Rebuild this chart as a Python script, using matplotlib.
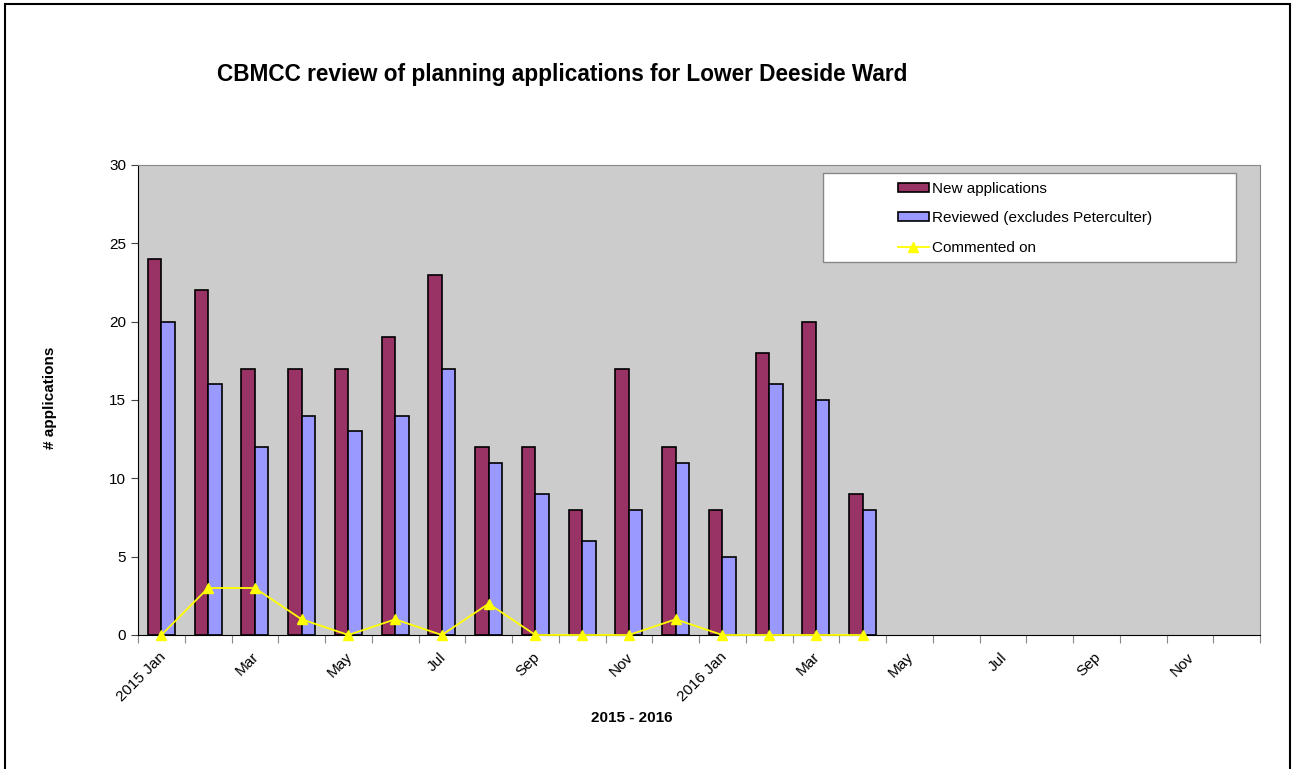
import matplotlib
matplotlib.use("Agg")
import matplotlib.pyplot as plt
import numpy as np
from matplotlib.patches import Rectangle

plt.rcParams["font.family"] = ["Liberation Sans", "DejaVu Sans"]

# monthly categories, Jan 2015 .. Dec 2016
months = ["2015 Jan", "Feb", "Mar", "Apr", "May", "Jun", "Jul", "Aug", "Sep", "Oct",
          "Nov", "Dec", "2016 Jan", "Feb", "Mar", "Apr", "May", "Jun", "Jul", "Aug",
          "Sep", "Oct", "Nov", "Dec"]
new_apps = [24, 22, 17, 17, 17, 19, 23, 12, 12, 8, 17, 12, 8, 18, 20, 9]
reviewed = [20, 16, 12, 14, 13, 14, 17, 11, 9, 6, 8, 11, 5, 16, 15, 8]
commented = [0, 3, 3, 1, 0, 1, 0, 2, 0, 0, 0, 1, 0, 0, 0, 0]

W, H = 1305, 769
AX_L, AX_R, AX_T, AX_B = 138, 1260, 165, 635
fig = plt.figure(figsize=(W / 100, H / 100), dpi=100)
ax = fig.add_axes([AX_L / W, 1 - AX_B / H, (AX_R - AX_L) / W, (AX_B - AX_T) / H])
ax.set_facecolor("#cccccc")


def axc(px, py):
    # pixel position -> axes fraction
    return (px - AX_L) / (AX_R - AX_L), (AX_B - py) / (AX_B - AX_T)


n = len(new_apps)
x = np.arange(n)
bw = 0.29
b1 = ax.bar(x - bw / 2, new_apps, bw, color="#993366", edgecolor="black", lw=1.2,
            label="New applications", zorder=2)
b2 = ax.bar(x + bw / 2, reviewed, bw, color="#9999ff", edgecolor="black", lw=1.2,
            label="Reviewed (excludes Peterculter)", zorder=2)
l1, = ax.plot(x, commented, color="#ffff00", marker="^", ms=7, lw=1.3,
              label="Commented on", zorder=3, clip_on=False)

ax.set_xlim(-0.5, len(months) - 0.5)
ax.set_ylim(0, 30)
ax.set_yticks(range(0, 31, 5))
ax.tick_params(axis="y", labelsize=11, length=5, color="#444444")

# category boundary ticks, labels every other month
ax.set_xticks(np.arange(len(months) + 1) - 0.5)
ax.set_xticklabels([])
ax.tick_params(axis="x", length=6, color="#888888")
for i in range(0, len(months), 2):
    ax.text(i - 0.06, -0.95, months[i], rotation=45, ha="right", va="top",
            fontsize=11, rotation_mode="anchor")

for s in ["top", "right"]:
    ax.spines[s].set_color("#888888")
ax.spines["left"].set_color("black")
ax.spines["bottom"].set_color("black")

fig.text(50 / W, 1 - 398 / H, "# applications", rotation=90, ha="center", va="center",
         fontsize=11, fontweight="bold")
fig.text(632 / W, 1 - 718 / H, "2015 - 2016", ha="center", va="center",
         fontsize=11, fontweight="bold")
fig.text(562 / W, 1 - 75 / H, "CBMCC review of planning applications for Lower Deeside Ward",
         ha="center", va="center", fontsize=16.3, fontweight="bold")

# legend box
x0, y0 = axc(823, 262)
x1, y1 = axc(1236, 173)
ax.add_patch(Rectangle((x0, y0), x1 - x0, y1 - y0, transform=ax.transAxes,
                       facecolor="white", edgecolor="#888888", lw=1, zorder=4))
lx, ly = axc(898, 182)
leg = ax.legend([b1, b2, l1], [b1.get_label(), b2.get_label(), l1.get_label()],
                loc="upper left", bbox_to_anchor=(lx, ly), frameon=False,
                fontsize=11, handlelength=2.0, handleheight=0.5, handletextpad=0.2,
                labelspacing=1.0, borderpad=0, borderaxespad=0)
leg.set_zorder(5)

# outer chart frame
fig.patches.append(Rectangle((5 / W, -0.05), (1290 - 5) / W, 1.05 - 4 / H,
                             transform=fig.transFigure, fill=False,
                             edgecolor="black", lw=1.5))

fig.savefig("out.png", dpi=100)
